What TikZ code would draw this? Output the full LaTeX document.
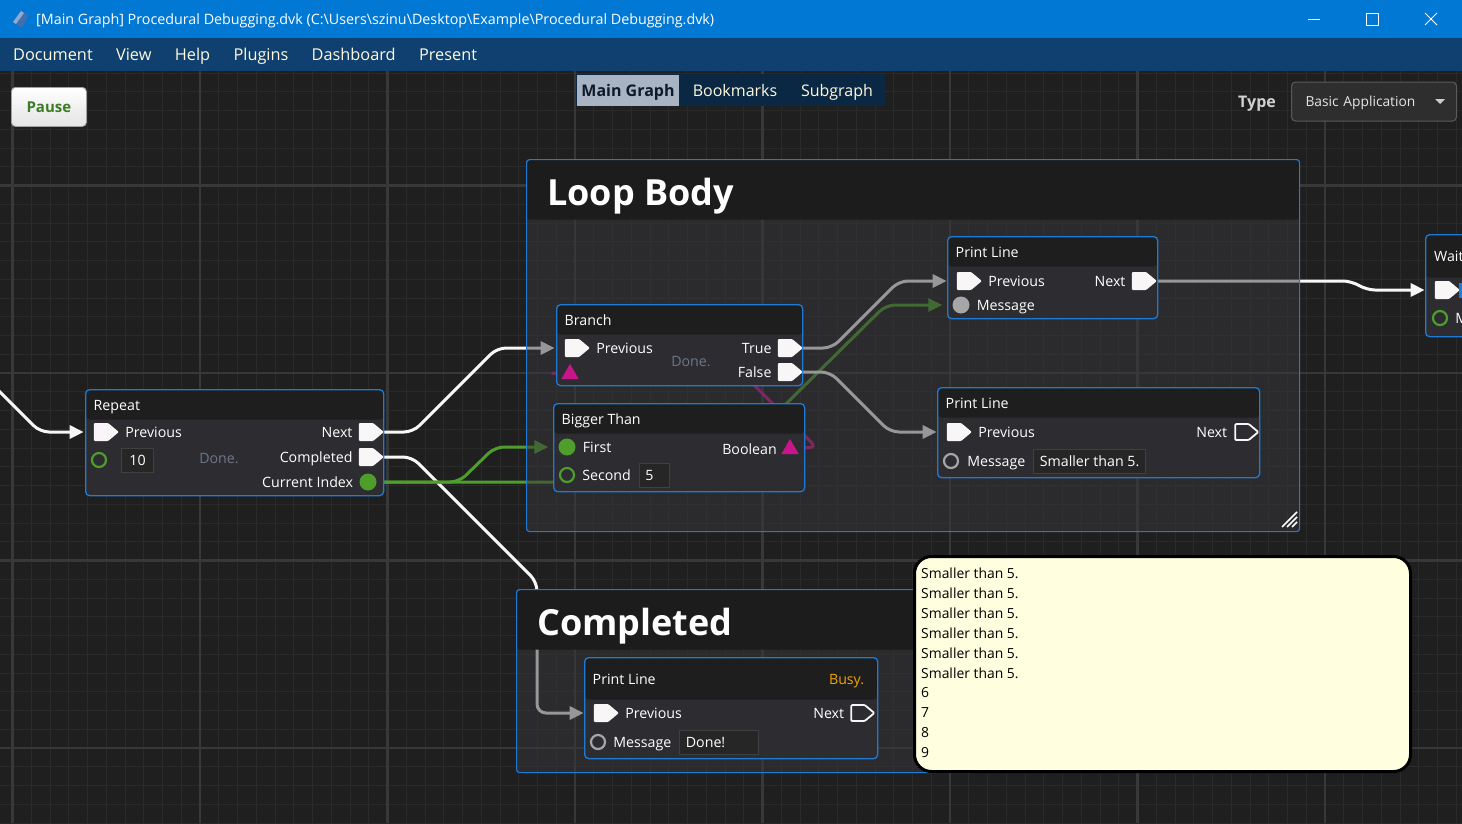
\documentclass[tikz,border=0pt]{standalone}
\usepackage{fontspec}
\setmainfont{Open Sans}
\usepackage{xcolor}
\usetikzlibrary{positioning,shapes.symbols,shapes.geometric,arrows.meta}

\definecolor{titleblue}{HTML}{0078D4}
\definecolor{menublue}{HTML}{0F406F}
\definecolor{cream}{HTML}{FFF9DE}
\definecolor{canvas}{HTML}{1F1F1F}
\definecolor{gridminor}{HTML}{2A2A2A}
\definecolor{gridmajor}{HTML}{383838}
\definecolor{nodeblue}{HTML}{1F7AD6}
\definecolor{nodehead}{HTML}{1E1E1E}
\definecolor{nodebody}{HTML}{2D2D31}
\definecolor{grouphead}{HTML}{1C1C1C}
\definecolor{groupbody}{HTML}{37373C}
\definecolor{fieldbg}{HTML}{262626}
\definecolor{fieldline}{HTML}{404040}
\definecolor{pinwhite}{HTML}{F8F6F6}
\definecolor{pingreen}{HTML}{4F9D2B}
\definecolor{pinpink}{HTML}{C8168A}
\definecolor{pingray}{HTML}{A6A6A6}
\definecolor{donegray}{HTML}{6B7786}
\definecolor{busy}{HTML}{F0A30A}
\definecolor{tabnavy}{HTML}{0A2743}
\definecolor{tabsel}{HTML}{A8B3C3}
\definecolor{tabdark}{HTML}{0C1A2A}
\definecolor{btnface}{HTML}{E4E4E4}
\definecolor{btnedge}{HTML}{A0A0A0}
\definecolor{pausegreen}{HTML}{3B7D23}
\definecolor{combobg}{HTML}{2E2E2E}
\definecolor{comboedge}{HTML}{5A5A5A}
\definecolor{consolebg}{HTML}{FFFEDF}
\definecolor{iconblue}{HTML}{3F6FAE}
\definecolor{iconlight}{HTML}{8FA9CF}

\newcommand{\fsz}[1]{\fontsize{#1}{#1}\selectfont}

\pgfdeclarelayer{back}
\pgfdeclarelayer{wires}
\pgfsetlayers{back,wires,main}

\begin{document}
\begin{tikzpicture}[x=1pt, y=-1pt, >={Triangle[length=14pt,width=13pt]},
  block/.style={draw=nodeblue, line width=1.3pt, rounded corners=4pt, fill=nodebody, anchor=north west, inner sep=0pt,
    path picture={\fill[nodehead] (path picture bounding box.north west) rectangle ([yshift=-#1]path picture bounding box.north east);}},
  block/.default=30pt,
  grp/.style={draw=nodeblue, line width=1.2pt, rounded corners=3pt, fill=groupbody, fill opacity=0.5, anchor=north west, inner sep=0pt,
    path picture={\fill[grouphead, fill opacity=1] (path picture bounding box.north west) rectangle ([yshift=-60pt]path picture bounding box.north east);}},
  gtitle/.style={font=\fsz{36}\bfseries, text=white, inner sep=0pt, text height=26pt, text depth=0pt, anchor=west},
  lbl/.style={font=\fsz{14.2}, text=white, inner sep=0pt, text height=10pt, text depth=0pt},
  hlbl/.style={lbl, anchor=west},
  donelbl/.style={lbl, text=donegray},
  field/.style={lbl, fill=fieldbg, draw=fieldline, line width=0.8pt, inner xsep=6pt, minimum height=24pt, align=left},
  execpin/.style={signal, signal to=east, signal pointer angle=80, fill=pinwhite, minimum width=25pt, minimum height=18pt, inner sep=0pt, rounded corners=1pt},
  execout/.style={execpin, fill=nodebody, draw=pinwhite, line width=1.8pt, minimum width=23pt, minimum height=16pt},
  datapin/.style={circle, fill=#1, minimum size=17pt, inner sep=0pt},
  dataring/.style={circle, draw=#1, line width=2.2pt, minimum size=14pt, inner sep=0pt},
  boolpin/.style={regular polygon, regular polygon sides=3, fill=pinpink, minimum size=20pt, inner sep=0pt},
  wire/.style={->, line width=3pt, draw=pinwhite, rounded corners=9pt, shorten >=10pt},
  gwire/.style={wire, draw=pingreen},
  pwire/.style={line width=3pt, draw=pinpink, rounded corners=6pt},
  menu/.style={font=\fsz{16.3}, text=cream, inner sep=0pt, text height=11.5pt, text depth=0pt, anchor=west},
  tab/.style={font=\fsz{16}, text=cream, inner sep=0pt, text height=11.5pt, text depth=0pt},
  conline/.style={font=\fsz{13.9}, text=black, inner sep=0pt, text height=10pt, text depth=0pt, anchor=west}]

\useasboundingbox (0,0) rectangle (1462,823);

\begin{pgfonlayer}{back}
\fill[canvas] (0,71) rectangle (1462,823);
\foreach \k in {0,...,78}
  \draw[gridminor, line width=1pt] ({-6.25+18.75*\k},71) -- ({-6.25+18.75*\k},823);
\foreach \k in {4,...,44}
  \draw[gridminor, line width=1pt] (0,{-2+18.75*\k}) -- (1462,{-2+18.75*\k});
\foreach \k in {0,...,7}
  \draw[gridmajor, line width=2.5pt] ({12.5+187.5*\k},71) -- ({12.5+187.5*\k},823);
\foreach \k in {1,...,4}
  \draw[gridmajor, line width=2.5pt] (0,{-2+187.5*\k}) -- (1462,{-2+187.5*\k});
\end{pgfonlayer}

\fill[titleblue] (0,0) rectangle (1462,38);
\fill[menublue] (0,38) rectangle (1462,71);
\fill[iconblue] (13,22) -- (21,11) -- (29,15) -- (22,28) -- cycle;
\fill[iconlight] (13,22) -- (21,11) -- (24,13) -- (16,24) -- cycle;
\node[font=\fsz{14.3}, text=white, inner sep=0pt, text height=10pt, text depth=0pt, anchor=west] (title) at (36,19)
  {[Main Graph] Procedural Debugging.dvk (C:\textbackslash Users\textbackslash szinu\textbackslash Desktop\textbackslash Example\textbackslash Procedural Debugging.dvk)};
\draw[white, line width=1pt] (1308,19) -- (1320,19);
\draw[white, line width=1pt] (1366,13) rectangle (1378,25);
\draw[white, line width=1pt] (1425,13) -- (1437,25) (1425,25) -- (1437,13);

\node[menu] (m-doc) at (13,55) {Document};
\node[menu, right=23pt of m-doc] (m-view) {View};
\node[menu, right=23pt of m-view] (m-help) {Help};
\node[menu, right=23pt of m-help] (m-plug) {Plugins};
\node[menu, right=23pt of m-plug] (m-dash) {Dashboard};
\node[menu, right=23pt of m-dash] (m-pres) {Present};

\node[top color=white, bottom color=btnface, draw=btnedge, line width=0.8pt, rounded corners=4pt, minimum width=75pt, minimum height=39pt,
  font=\fsz{15}\bfseries, text=pausegreen, anchor=north west] (pause) at (11,87) {Pause};

\node[fill=tabnavy, minimum width=309pt, minimum height=32pt, inner sep=0pt, anchor=north west] (tabbar) at (576,74) {};
\node[tab, fill=tabsel, text=tabdark, font=\fsz{16}\bfseries, minimum width=102pt, minimum height=31pt] (tab-main) at (628,90.5) {Main Graph};
\node[tab] (tab-book) at (735,91) {Bookmarks};
\node[tab] (tab-sub) at (837,91) {Subgraph};

\node[font=\fsz{16}\bfseries, text=white!82!black, inner sep=0pt, text height=11.5pt, text depth=0pt] (type) at (1257,102) {Type};
\node[fill=combobg, draw=comboedge, line width=1pt, rounded corners=4pt, minimum height=39pt, anchor=west, text width=137pt,
  inner xsep=14pt, align=left, font=\fsz{13.8}, text=white!90!black, text height=10pt, text depth=0pt] (appsel) at (1291,101.5) {Basic Application};
\fill[white!80!black] (1435,99) -- (1445,99) -- (1440,104) -- cycle;

\node[grp, minimum width=773pt, minimum height=372pt] (loop) at (526,159) {};
\node[gtitle] (loop-t) at ([xshift=21pt, yshift=-33pt]loop.north west) {Loop Body};
\foreach \d in {0,5,10}
  \draw[white, line width=1.5pt] ({1282+\d},527) -- (1297,{512+\d});

\node[grp, minimum width=456pt, minimum height=183pt] (comp) at (516,589) {};
\node[gtitle] (comp-t) at ([xshift=21pt, yshift=-33pt]comp.north west) {Completed};

\node[block, minimum width=298pt, minimum height=106pt] (rep) at (85,389) {};
\node[hlbl] (rep-t) at ([xshift=8.5pt, yshift=-16pt]rep.north west) {Repeat};
\node[execpin] (rep-prev) at (101,432) {};
\node[lbl, right=6pt of rep-prev] (rep-prev-l) {Previous};
\node[execpin] (rep-next) at (366,432) {};
\node[lbl, left=6pt of rep-next] (rep-next-l) {Next};
\node[dataring=pingreen] (rep-count) at (99,460) {};
\node[field, text width=20pt, align=center, right=14pt of rep-count] (rep-count-v) {10};
\node[donelbl] (rep-done) at (219,458) {Done.};
\node[execpin] (rep-comp) at (366,457) {};
\node[lbl, left=6pt of rep-comp] (rep-comp-l) {Completed};
\node[datapin=pingreen] (rep-idx) at (368,482) {};
\node[lbl, left=6pt of rep-idx] (rep-idx-l) {Current Index};

\node[block, minimum width=246pt, minimum height=81pt] (br) at (556,304) {};
\node[hlbl] (br-t) at ([xshift=8.5pt, yshift=-16pt]br.north west) {Branch};
\node[execpin] (br-prev) at (572,348) {};
\node[lbl, right=6pt of br-prev] (br-prev-l) {Previous};
\node[donelbl] (br-done) at (691,361) {Done.};
\node[execpin] (br-true) at (785,348) {};
\node[lbl, left=6pt of br-true] (br-true-l) {True};
\node[execpin] (br-false) at (785,372) {};
\node[lbl, left=6pt of br-false] (br-false-l) {False};
\node[boolpin] (br-cond) at (570,374) {};

\node[block, minimum width=251pt, minimum height=88pt] (bt) at (553,403) {};
\node[hlbl] (bt-t) at ([xshift=8.5pt, yshift=-16pt]bt.north west) {Bigger Than};
\node[datapin=pingreen] (bt-first) at (567,447) {};
\node[lbl, right=7pt of bt-first] (bt-first-l) {First};
\node[boolpin] (bt-bool) at (790,449) {};
\node[lbl, left=7pt of bt-bool] (bt-bool-l) {Boolean};
\node[dataring=pingreen] (bt-second) at (567,475) {};
\node[lbl, right=7pt of bt-second] (bt-second-l) {Second};
\node[field, text width=18pt, right=8pt of bt-second-l] (bt-second-v) {5};

\node[block, minimum width=210pt, minimum height=82pt] (pl1) at (947,236) {};
\node[hlbl] (pl1-t) at ([xshift=8.5pt, yshift=-16pt]pl1.north west) {Print Line};
\node[execpin] (pl1-prev) at (964,281) {};
\node[lbl, right=6pt of pl1-prev] (pl1-prev-l) {Previous};
\node[execpin] (pl1-next) at (1139,281) {};
\node[lbl, left=6pt of pl1-next] (pl1-next-l) {Next};
\node[datapin=pingray] (pl1-msg) at (961,305) {};
\node[lbl, right=7pt of pl1-msg] (pl1-msg-l) {Message};

\node[block, minimum width=322pt, minimum height=90pt] (pl2) at (937,387) {};
\node[hlbl] (pl2-t) at ([xshift=8.5pt, yshift=-16pt]pl2.north west) {Print Line};
\node[execpin] (pl2-prev) at (954,432) {};
\node[lbl, right=6pt of pl2-prev] (pl2-prev-l) {Previous};
\node[execout] (pl2-next) at (1242,432) {};
\node[lbl, left=7pt of pl2-next] (pl2-next-l) {Next};
\node[dataring=pingray] (pl2-msg) at (951,461) {};
\node[lbl, right=8pt of pl2-msg] (pl2-msg-l) {Message};
\node[field, right=8pt of pl2-msg-l] (pl2-msg-v) {Smaller than 5.};

\node[block=43pt, minimum width=80pt, minimum height=102pt] (wait) at (1425,234) {};
\node[hlbl] (wait-t) at ([xshift=9pt, yshift=-22pt]wait.north west) {Wait};
\node[execpin] (wait-prev) at (1442,290) {};
\node[fill=nodeblue, minimum width=5pt, minimum height=15pt, inner sep=0pt, anchor=west] (wait-next) at (1459,290) {};
\node[dataring=pingreen] (wait-msg) at (1440,318) {};
\node[lbl, right=7pt of wait-msg] (wait-msg-l) {Message};

\node[block=42pt, minimum width=293pt, minimum height=101pt] (pl3) at (584,657) {};
\node[hlbl] (pl3-t) at ([xshift=8.5pt, yshift=-22pt]pl3.north west) {Print Line};
\node[lbl, text=busy, anchor=east] (pl3-busy) at ([xshift=-14pt, yshift=-22pt]pl3.north east) {Busy.};
\node[execpin] (pl3-prev) at (601,713) {};
\node[lbl, right=6pt of pl3-prev] (pl3-prev-l) {Previous};
\node[execout] (pl3-next) at (858,713) {};
\node[lbl, left=6pt of pl3-next] (pl3-next-l) {Next};
\node[dataring=pingray] (pl3-msg) at (598,742) {};
\node[lbl, right=7pt of pl3-msg] (pl3-msg-l) {Message};
\node[field, text width=67pt, right=8pt of pl3-msg-l] (pl3-msg-v) {Done!};

\coordinate (in) at (-20,372);

\begin{pgfonlayer}{wires}
\draw[wire] (in) -- (40,432) -- (rep-prev);
\draw[wire] (rep-next) -- (413,432) -- (497,348) -- (br-prev);
\draw[wire] (rep-comp) -- (412,457) -- (537,582) -- (537,713) -- (pl3-prev);
\draw[gwire] (rep-idx) -- (707,482) -- (886,305) -- (pl1-msg);
\draw[gwire] (rep-idx) -- (459,482) -- (495,447) -- (bt-first);
\draw[wire] (br-true) -- (832,348) -- (899,281) -- (pl1-prev);
\draw[wire] (br-false) -- (830,372) -- (890,432) -- (pl2-prev);
\draw[pwire] (bt-bool) -- (816,447) -- (750,381) -- (548,373) -- (br-cond);
\draw[wire] (pl1-next) -- (1352,281) -- (1366,290) -- (wait-prev);
\end{pgfonlayer}

\node[draw=black, line width=3pt, fill=consolebg, rounded corners=17pt, minimum width=496pt, minimum height=215pt,
  inner sep=0pt, anchor=north west] (console) at (913,555) {};
\foreach \t [count=\i from 0] in {Smaller than 5.,Smaller than 5.,Smaller than 5.,Smaller than 5.,Smaller than 5.,Smaller than 5.,6,7,8,9}
  \node[conline] (out-\i) at (921,{573.5+19.9*\i}) {\t};

\end{tikzpicture}
\end{document}
